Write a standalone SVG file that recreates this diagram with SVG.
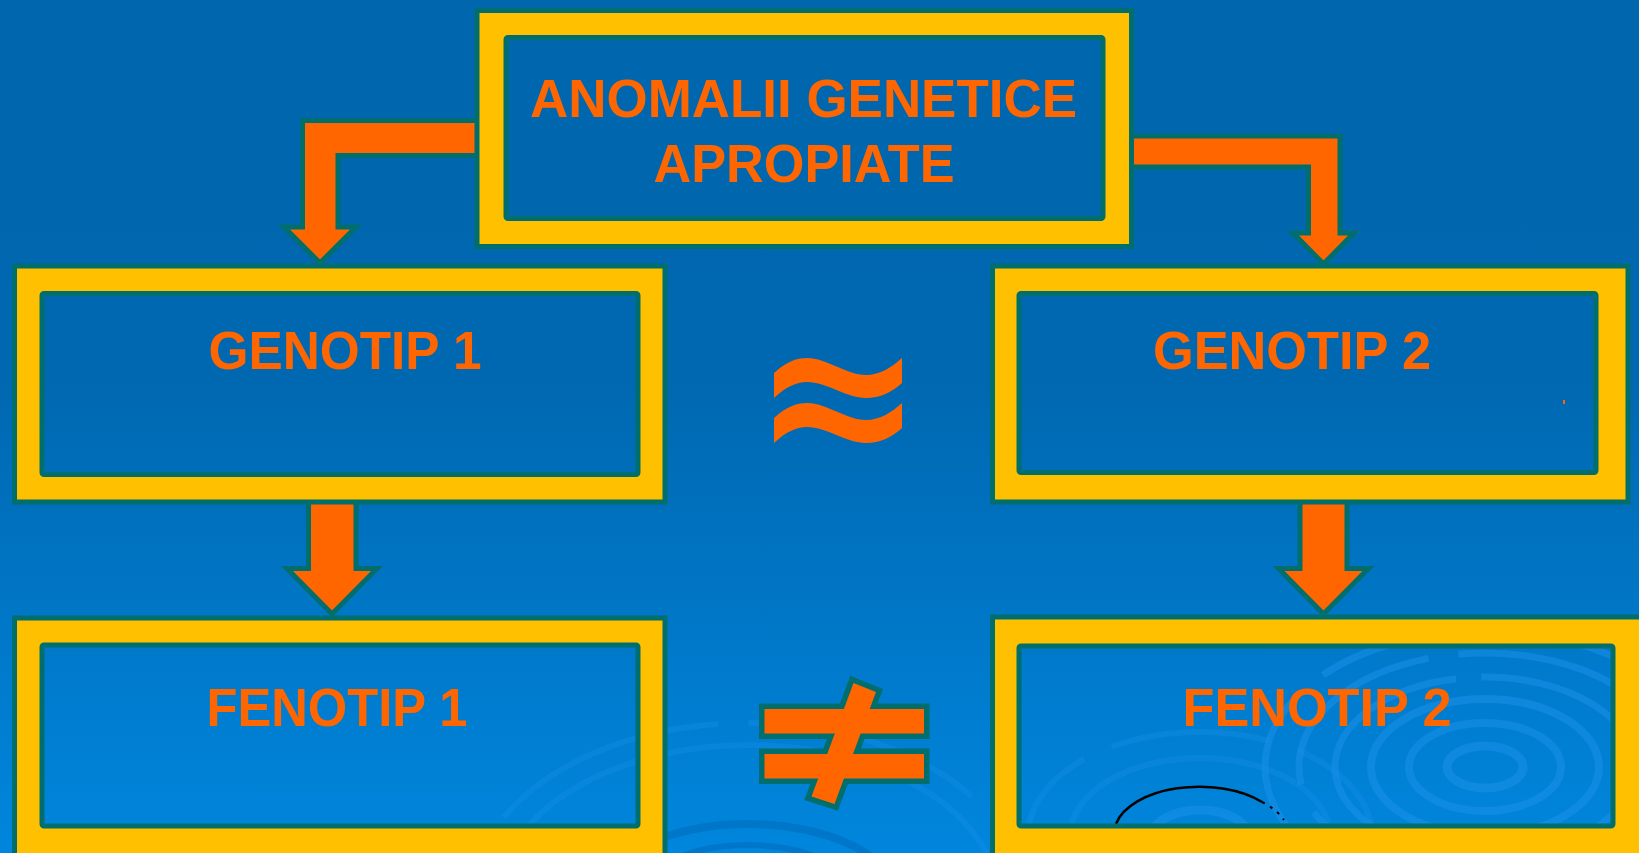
<svg xmlns="http://www.w3.org/2000/svg" width="1639" height="853" viewBox="0 0 1639 853">
<defs>
<linearGradient id="bg" x1="0" y1="0" x2="0" y2="1">
<stop offset="0" stop-color="#0066AD"/>
<stop offset="0.45" stop-color="#0068B1"/>
<stop offset="1" stop-color="#0086DD"/>
</linearGradient>
<style>
.frame{fill:#FFC000;fill-rule:evenodd;stroke:none}
.edge{fill:none;stroke:#006E6C;stroke-width:5}
.lbl{font-family:"Liberation Sans",Arial,sans-serif;font-weight:bold;font-size:54px;fill:#FF6600}
.arrow{fill:#FF6600;stroke:#006E6C;stroke-width:5;stroke-linejoin:miter;stroke-miterlimit:10}
.ring{fill:none;stroke:#1C92EA;stroke-opacity:0.5}
.faint{fill:none;stroke:#1C92EA;stroke-opacity:0.3}
.dark{fill:none;stroke:#0068B8;stroke-opacity:0.5}
</style>
</defs>
<g id="background">
<rect x="0" y="0" width="1639" height="853" fill="url(#bg)"/>
<g id="ripples">
<ellipse class="ring" cx="1485" cy="767" rx="38" ry="21" stroke-width="9"/>
<ellipse class="ring" cx="1485" cy="767" rx="76" ry="44" stroke-width="8"/>
<ellipse class="ring" cx="1485" cy="767" rx="114" ry="68" stroke-width="8"/>
<ellipse class="ring" cx="1485" cy="767" rx="150" ry="90" stroke-width="7" stroke-dasharray="260 25"/>
<ellipse class="ring" cx="1485" cy="767" rx="186" ry="114" stroke-width="7" stroke-dasharray="200 30"/>
<ellipse class="ring" cx="1485" cy="767" rx="220" ry="136" stroke-width="7" stroke-dasharray="300 40"/>
<ellipse class="ring" cx="1200" cy="836" rx="48" ry="26" stroke-width="9"/>
<ellipse class="faint" cx="1200" cy="836" rx="130" ry="78" stroke-width="6"/>
<ellipse class="faint" cx="1200" cy="836" rx="172" ry="104" stroke-width="6" stroke-dasharray="160 30"/>
<ellipse class="faint" cx="748" cy="900" rx="276" ry="177" stroke-width="6" stroke-dasharray="240 30"/>
<ellipse class="faint" cx="748" cy="900" rx="250" ry="155" stroke-width="6"/>
<ellipse class="dark" cx="748" cy="900" rx="150" ry="76" stroke-width="8"/>
<ellipse class="dark" cx="748" cy="900" rx="110" ry="55" stroke-width="6"/>
<path d="M1116,824 A85,47 0 0 1 1262,802" fill="none" stroke="#000" stroke-width="2.5"/>
<path d="M1262,802 A85,47 0 0 1 1284,820" fill="none" stroke="#000" stroke-width="2" stroke-dasharray="3 6"/>
</g>
<rect x="1563" y="400" width="2" height="4" fill="#FF6600"/>
</g>
<g id="connectors">
<polygon class="arrow" points="482,120.5 302.5,120.5 302.5,227 284,227 320,263 356,227 338,227 338,155.5 482,155.5"/>
<polygon class="arrow" points="1125,136 1340,136 1340,233 1354,233 1323.5,264 1293,233 1308.5,233 1308.5,167 1125,167"/>
<polygon class="arrow" points="308.5,498 356,498 356,568.5 377,568.5 332,614 287,568.5 308.5,568.5"/>
<polygon class="arrow" points="1300,498 1347,498 1347,568.5 1368.5,568.5 1323.5,614 1278.5,568.5 1300,568.5"/>
</g>
<g id="anomalii">
<path class="frame" d="M477,10.5H1131.5V246.5H477Z M506,37.5H1103V218.5H506Z"/>
<rect class="edge" x="477" y="10.5" width="654.5" height="236"/>
<rect class="edge" x="506" y="37.5" width="597" height="181" rx="2"/>
<text class="lbl" x="530" y="117" textLength="547" lengthAdjust="spacingAndGlyphs">ANOMALII GENETICE</text>
<text class="lbl" x="653.5" y="182" textLength="301" lengthAdjust="spacingAndGlyphs">APROPIATE</text>
</g>
<g id="genotip1">
<path class="frame" d="M14.5,266H665V502H14.5Z M42,293.5H638V474.5H42Z"/>
<rect class="edge" x="14.5" y="266" width="650.5" height="236"/>
<rect class="edge" x="42" y="293.5" width="596" height="181" rx="2"/>
<text class="lbl" x="208.5" y="369" textLength="273" lengthAdjust="spacingAndGlyphs">GENOTIP 1</text>
</g>
<g id="genotip2">
<path class="frame" d="M992.5,266H1628V502H992.5Z M1019,293.5H1596V472.5H1019Z"/>
<rect class="edge" x="992.5" y="266" width="635.5" height="236"/>
<rect class="edge" x="1019" y="293.5" width="577" height="179" rx="2"/>
<text class="lbl" x="1153" y="369" textLength="278" lengthAdjust="spacingAndGlyphs">GENOTIP 2</text>
</g>
<g id="fenotip1">
<path class="frame" d="M14.5,618H665V856H14.5Z M42,645H638V826H42Z"/>
<rect class="edge" x="14.5" y="618" width="650.5" height="238"/>
<rect class="edge" x="42" y="645" width="596" height="181" rx="2"/>
<text class="lbl" x="206.5" y="726" textLength="261" lengthAdjust="spacingAndGlyphs">FENOTIP 1</text>
</g>
<g id="fenotip2">
<path class="frame" d="M992.5,617H1645V856H992.5Z M1019,646H1613V826H1019Z"/>
<rect class="edge" x="992.5" y="617" width="652.5" height="239"/>
<rect class="edge" x="1019" y="646" width="594" height="180" rx="2"/>
<text class="lbl" x="1182.5" y="726" textLength="269" lengthAdjust="spacingAndGlyphs">FENOTIP 2</text>
</g>
<g id="approx">
<path fill="#FF6600" d="M774,373 C786,362 796,358 807,358 C827,358 846,375 866,375 C880,375 892,367 902,358 V383 C892,392 880,398 866,398 C846,398 827,382 807,382 C796,382 786,387 774,398 Z"/>
<path fill="#FF6600" d="M774,418 C786,407 796,403 807,403 C827,403 846,420 866,420 C880,420 892,412 902,403 V428 C892,437 880,443 866,443 C846,443 827,427 807,427 C796,427 786,432 774,443 Z"/>
</g>
<g id="notequal">
<g fill="none" stroke="#006E6C" stroke-width="11" stroke-linejoin="miter">
<rect x="764.5" y="709" width="159.5" height="24.5"/>
<rect x="764.5" y="754" width="159.5" height="24.5"/>
<polygon points="853.5,683 876,692 834.5,804 811.5,796.5"/>
</g>
<g fill="#FF6600">
<rect x="764.5" y="709" width="159.5" height="24.5"/>
<rect x="764.5" y="754" width="159.5" height="24.5"/>
<polygon points="853.5,683 876,692 834.5,804 811.5,796.5"/>
</g>
</g>
</svg>
